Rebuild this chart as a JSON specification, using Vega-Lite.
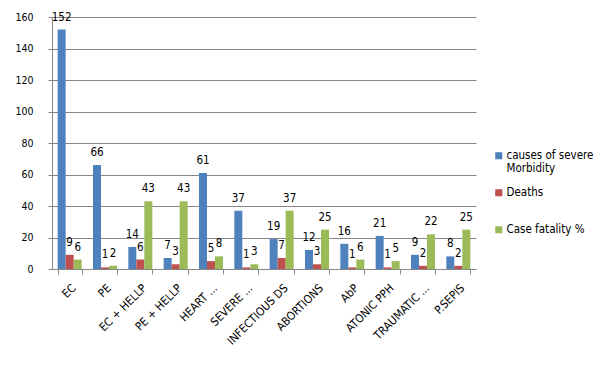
{
  "$schema": "https://vega.github.io/schema/vega-lite/v6.json",
  "width": 424,
  "height": 252,
  "autosize": "none",
  "padding": {"left": 52, "top": 17, "right": 132, "bottom": 100},
  "background": "white",
  "config": {
    "view": {"stroke": null},
    "font": "DejaVu Sans Condensed, Liberation Sans, sans-serif",
    "axis": {"labelFont": "DejaVu Sans Condensed, Liberation Sans, sans-serif", "labelFontSize": 10.5, "labelColor": "#000000", "title": null},
    "legend": {"labelFont": "DejaVu Sans Condensed, Liberation Sans, sans-serif", "labelFontSize": 11.5, "labelColor": "#000000"}
  },
  "data": {
    "values": [
      {"cause": "EC", "series": "causes of severe Morbidity", "value": 152},
      {"cause": "EC", "series": "Deaths", "value": 9},
      {"cause": "EC", "series": "Case fatality %", "value": 6},
      {"cause": "PE", "series": "causes of severe Morbidity", "value": 66},
      {"cause": "PE", "series": "Deaths", "value": 1},
      {"cause": "PE", "series": "Case fatality %", "value": 2},
      {"cause": "EC + HELLP", "series": "causes of severe Morbidity", "value": 14},
      {"cause": "EC + HELLP", "series": "Deaths", "value": 6},
      {"cause": "EC + HELLP", "series": "Case fatality %", "value": 43},
      {"cause": "PE + HELLP", "series": "causes of severe Morbidity", "value": 7},
      {"cause": "PE + HELLP", "series": "Deaths", "value": 3},
      {"cause": "PE + HELLP", "series": "Case fatality %", "value": 43},
      {"cause": "HEART ...", "series": "causes of severe Morbidity", "value": 61},
      {"cause": "HEART ...", "series": "Deaths", "value": 5},
      {"cause": "HEART ...", "series": "Case fatality %", "value": 8},
      {"cause": "SEVERE ...", "series": "causes of severe Morbidity", "value": 37},
      {"cause": "SEVERE ...", "series": "Deaths", "value": 1},
      {"cause": "SEVERE ...", "series": "Case fatality %", "value": 3},
      {"cause": "INFECTIOUS  DS", "series": "causes of severe Morbidity", "value": 19},
      {"cause": "INFECTIOUS  DS", "series": "Deaths", "value": 7},
      {"cause": "INFECTIOUS  DS", "series": "Case fatality %", "value": 37},
      {"cause": "ABORTIONS", "series": "causes of severe Morbidity", "value": 12},
      {"cause": "ABORTIONS", "series": "Deaths", "value": 3},
      {"cause": "ABORTIONS", "series": "Case fatality %", "value": 25},
      {"cause": "AbP", "series": "causes of severe Morbidity", "value": 16},
      {"cause": "AbP", "series": "Deaths", "value": 1},
      {"cause": "AbP", "series": "Case fatality %", "value": 6},
      {"cause": "ATONIC PPH", "series": "causes of severe Morbidity", "value": 21},
      {"cause": "ATONIC PPH", "series": "Deaths", "value": 1},
      {"cause": "ATONIC PPH", "series": "Case fatality %", "value": 5},
      {"cause": "TRAUMATIC ...", "series": "causes of severe Morbidity", "value": 9},
      {"cause": "TRAUMATIC ...", "series": "Deaths", "value": 2},
      {"cause": "TRAUMATIC ...", "series": "Case fatality %", "value": 22},
      {"cause": "P.SEPIS", "series": "causes of severe Morbidity", "value": 8},
      {"cause": "P.SEPIS", "series": "Deaths", "value": 2},
      {"cause": "P.SEPIS", "series": "Case fatality %", "value": 25}
    ]
  },
  "encoding": {
    "x": {
      "field": "cause", "type": "nominal", "sort": null,
      "scale": {"paddingInner": 0.32, "paddingOuter": 0.16},
      "axis": {"labelAngle": -45, "labelPadding": 8, "labelFontSize": 11.5, "tickBand": "extent", "tickSize": 5, "tickColor": "#868686", "domainColor": "#868686", "labelLimit": 200}
    },
    "xOffset": {"field": "series", "type": "nominal", "sort": ["causes of severe Morbidity", "Deaths", "Case fatality %"]},
    "y": {
      "field": "value", "type": "quantitative",
      "scale": {"domain": [0, 160], "nice": false},
      "axis": {"values": [0, 20, 40, 60, 80, 100, 120, 140, 160], "tickSize": 4, "labelPadding": 15, "tickColor": "#868686", "domain": true, "domainColor": "#868686", "gridColor": "#868686", "grid": true}
    }
  },
  "layer": [
    {
      "mark": {"type": "bar"},
      "encoding": {
        "color": {
          "field": "series", "type": "nominal",
          "sort": ["causes of severe Morbidity", "Deaths", "Case fatality %"],
          "scale": {"domain": ["causes of severe Morbidity", "Deaths", "Case fatality %"], "range": ["#4F81BD", "#C0504D", "#9BBB59"]},
          "legend": {
            "title": null, "orient": "none", "legendX": 441, "legendY": 133,
            "symbolType": "square", "symbolSize": 50, "symbolStrokeWidth": 0,
            "rowPadding": 11, "labelOffset": 2,
            "labelExpr": "datum.label == 'causes of severe Morbidity' ? [' causes of severe', 'Morbidity'] : [datum.label, '']"
          }
        }
      }
    },
    {
      "mark": {"type": "text", "baseline": "bottom", "dy": -7, "fontSize": 11.5, "color": "#000000"},
      "encoding": {"text": {"field": "value", "type": "quantitative"}}
    }
  ]
}
